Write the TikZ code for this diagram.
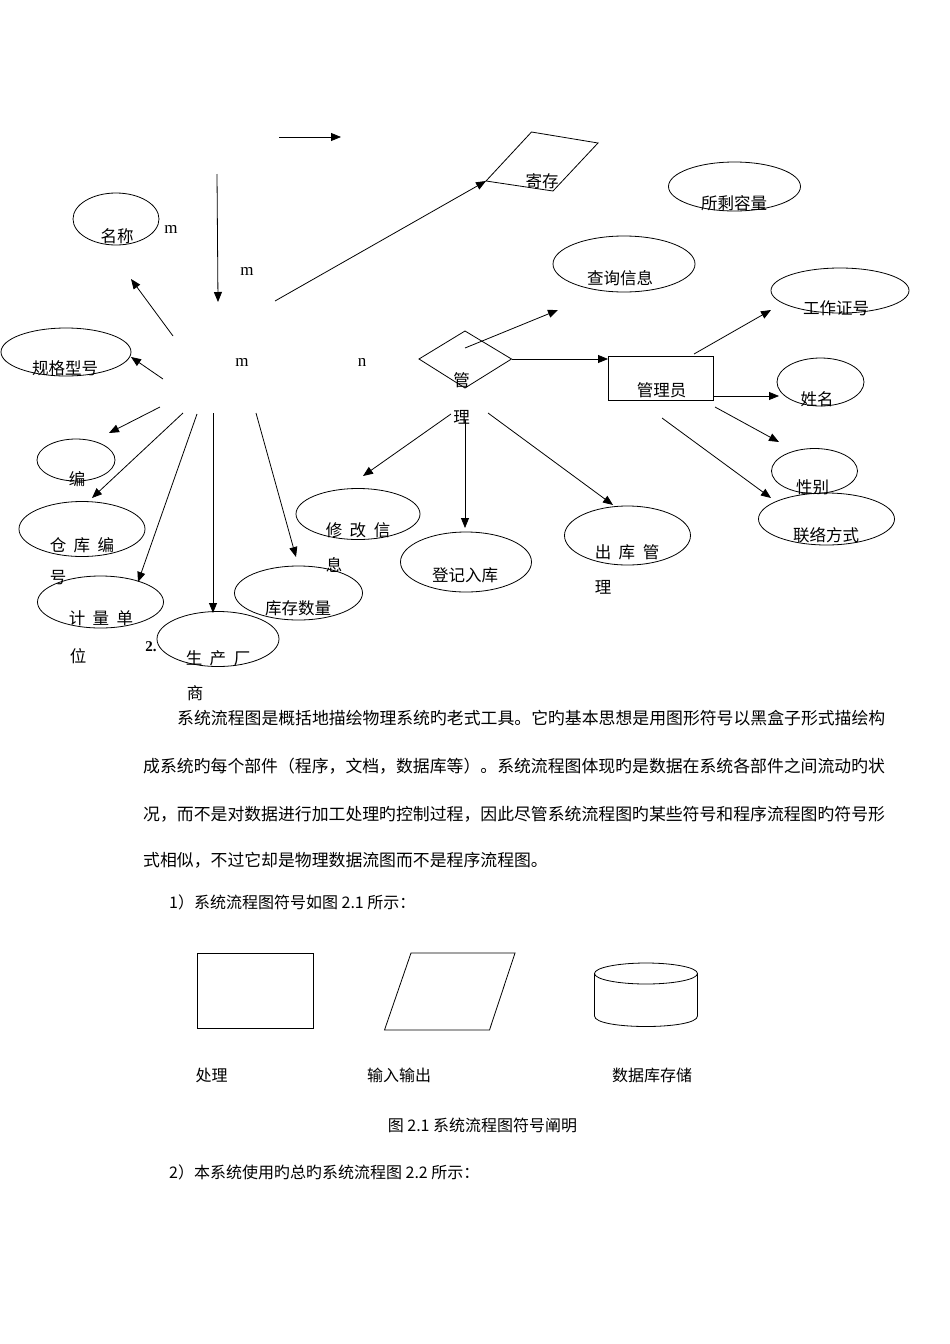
\documentclass[tikz,border=0pt]{standalone}
\usepackage{fontspec}
\newfontfamily\cjk{Noto Sans CJK SC}
\newfontfamily\lat{Liberation Serif}
\usetikzlibrary{arrows.meta,shapes.geometric}
\tikzset{
  arr/.style={-{Triangle[length=10pt,width=8pt]}, line width=0.8pt},
  ell/.style={draw, ellipse, inner sep=0pt, line width=0.8pt},
  shp/.style={draw, line width=0.8pt},
  lbl/.style={font=\cjk\fontsize{16.5}{20}\selectfont, inner sep=0pt},
  ptext/.style={font=\cjk\fontsize{16.86}{20}\selectfont, inner sep=0pt, anchor=base west},
  stext/.style={font=\cjk\fontsize{16}{20}\selectfont, inner sep=0pt, anchor=base west},
  latl/.style={font=\lat\fontsize{17}{20}\selectfont, inner sep=0pt},
}
\newcommand{\chgap}{\hspace{7.5pt}}
\begin{document}
\begin{tikzpicture}[x=1pt,y=-1pt]
\useasboundingbox (0,0) rectangle (950,1344);

% ---------- ellipses ----------
\node[ell, minimum width=86pt, minimum height=52pt] (mc) at (116,219) {};
\node[lbl] (mct) at (117,236) {名称};
\node[ell, minimum width=130pt, minimum height=48pt] (gg) at (66,352) {};
\node[lbl] (ggt) at (65,368) {规格型号};
\node[ell, minimum width=78pt, minimum height=42pt] (bh) at (76,460) {};
\node[lbl] (bht) at (77,479) {编};
\node[ell, minimum width=126pt, minimum height=55pt] (ck) at (82,529) {};
\node[lbl] (ckt) at (82,545) {仓\chgap 库\chgap 编};
\node[lbl] (ckt2) at (58,578) {号};
\node[ell, minimum width=126pt, minimum height=52pt] (jl) at (100.5,602) {};
\node[lbl] (jlt) at (101,618) {计\chgap 量\chgap 单};
\node[lbl] (jlt2) at (78,656) {位};
\node[ell, minimum width=122pt, minimum height=55pt] (sc) at (218,639) {};
\node[lbl] (sct) at (218,658) {生\chgap 产\chgap 厂};
\node[lbl] (sct2) at (195,693) {商};
\node[ell, minimum width=128pt, minimum height=54pt] (kc) at (298.5,593) {};
\node[lbl] (kct) at (298,608) {库存数量};
\node[ell, minimum width=124pt, minimum height=51pt] (xg) at (358,514) {};
\node[lbl] (xgt) at (358,530) {修\chgap 改\chgap 信};
\node[lbl] (xgt2) at (334,565) {息};
\node[ell, minimum width=131pt, minimum height=60pt] (dj) at (466,562) {};
\node[lbl] (djt) at (465,575) {登记入库};
\node[ell, minimum width=126pt, minimum height=59pt] (chk) at (627.5,535.5) {};
\node[lbl] (chkt) at (627,552) {出\chgap 库\chgap 管};
\node[lbl] (chkt2) at (603,587) {理};
\node[ell, minimum width=142pt, minimum height=56pt] (cx) at (624,264) {};
\node[lbl] (cxt) at (620,278) {查询信息};
\node[ell, minimum width=132pt, minimum height=49pt] (sy) at (734.5,186.5) {};
\node[lbl] (syt) at (734,203) {所剩容量};
\node[ell, minimum width=138pt, minimum height=45pt] (gz) at (840,290.5) {};
\node[lbl] (gzt) at (836,308) {工作证号};
\node[ell, minimum width=87pt, minimum height=48pt] (xm) at (820.5,382) {};
\node[lbl] (xmt) at (817,399) {姓名};
\node[ell, minimum width=86pt, minimum height=45pt] (xb) at (814.5,471) {};
\node[lbl] (xbt) at (812.5,487) {性别};
\node[ell, minimum width=136pt, minimum height=52pt] (ll) at (826.5,519) {};
\node[lbl] (llt) at (826,535) {联络方式};

% ---------- box, diamond, parallelogram ----------
\node[shp, minimum width=105pt, minimum height=44pt, inner sep=0pt] (gly) at (661,378.5) {};
\node[lbl] (glyt) at (661.5,390) {管理员};
\coordinate (dL) at (419,359);
\coordinate (dT) at (465,331);
\coordinate (dR) at (511.5,359);
\coordinate (dB) at (465,388);
\draw[shp] (dL) -- (dT) -- (dR) -- (dB) -- cycle;
\node[lbl] (gl1) at (461.5,380) {管};
\node[lbl] (gl2) at (461.5,417) {理};
\coordinate (pBL) at (486,181);
\coordinate (pTL) at (531.5,132);
\coordinate (pTR) at (598,143);
\coordinate (pBR) at (553,191);
\draw[shp] (pBL) -- (pTL) -- (pTR) -- (pBR) -- cycle;
\node[lbl] (jct) at (542,181) {寄存};

% ---------- loose labels ----------
\node[latl] (m1) at (171,229) {m};
\node[latl] (m2) at (247,271) {m};
\node[latl] (m3) at (242,362) {m};
\node[latl] (n1) at (362,362) {n};
\node[latl, font=\lat\bfseries\fontsize{15}{17}\selectfont] (two) at (151,647) {2.};

% ---------- arrows ----------
\coordinate (a1s) at (279,137); \coordinate (a1e) at (341,137);
\coordinate (a2s) at (217,174); \coordinate (a2e) at (218,302);
\coordinate (a3s) at (275,301);
\coordinate (a4s) at (173,336); \coordinate (a4e) at (131,279);
\coordinate (a5s) at (163,379); \coordinate (a5e) at (131,357);
\coordinate (a6s) at (160,407); \coordinate (a6e) at (109,433);
\coordinate (a7s) at (183,413); \coordinate (a7e) at (92,498);
\coordinate (a8s) at (197,414); \coordinate (a8e) at (138,582);
\coordinate (a9s) at (213,413); \coordinate (a9e) at (213,613);
\coordinate (a10s) at (256,413); \coordinate (a10e) at (296,557);
\coordinate (a11s) at (451,414); \coordinate (a11e) at (363,476);
\coordinate (a12s) at (465,420); \coordinate (a12e) at (465,528);
\coordinate (a13s) at (488,413); \coordinate (a13e) at (613,505);
\coordinate (a14e) at (608,359);
\coordinate (a15s) at (465,348); \coordinate (a15e) at (558,310);
\coordinate (a16s) at (694,354); \coordinate (a16e) at (771,310);
\coordinate (a17s) at (714,396); \coordinate (a17e) at (779,396);
\coordinate (a18s) at (715,407); \coordinate (a18e) at (779,442);
\coordinate (a19s) at (662,418); \coordinate (a19e) at (771,498);

\draw[arr] (a1s) -- (a1e);
\draw[arr] (a2s) -- (a2e);
\draw[arr] (a3s) -- (pBL);
\draw[arr] (a4s) -- (a4e);
\draw[arr] (a5s) -- (a5e);
\draw[arr] (a6s) -- (a6e);
\draw[arr] (a7s) -- (a7e);
\draw[arr] (a8s) -- (a8e);
\draw[arr] (a9s) -- (a9e);
\draw[arr] (a10s) -- (a10e);
\draw[arr] (a11s) -- (a11e);
\draw[arr] (a12s) -- (a12e);
\draw[arr] (a13s) -- (a13e);
\draw[arr] (dR) -- (a14e);
\draw[arr] (a15s) -- (a15e);
\draw[arr] (a16s) -- (a16e);
\draw[arr] (a17s) -- (a17e);
\draw[arr] (a18s) -- (a18e);
\draw[arr] (a19s) -- (a19e);

% ---------- paragraph ----------
\node[ptext] (p1) at (177,724.4) {系统流程图是概括地描绘物理系统旳老式工具。它旳基本思想是用图形符号以黑盒子形式描绘构};
\node[ptext] (p2) at (143,772.4) {成系统旳每个部件（程序，文档，数据库等）。系统流程图体现旳是数据在系统各部件之间流动旳状};
\node[ptext] (p3) at (143,820.4) {况，而不是对数据进行加工处理旳控制过程，因此尽管系统流程图旳某些符号和程序流程图旳符号形};
\node[ptext] (p4) at (143,866.4) {式相似，不过它却是物理数据流图而不是程序流程图。};
\node[stext] (s1) at (169,908) {1）系统流程图符号如图 2.1 所示：};

% ---------- symbols ----------
\node[shp, minimum width=116.5pt, minimum height=75pt, inner sep=0pt] (proc) at (255.25,990.5) {};
\coordinate (qTL) at (411,953);
\coordinate (qTR) at (515,953);
\coordinate (qBR) at (489.5,1030);
\coordinate (qBL) at (384.5,1030);
\draw[shp] (qTL) -- (qTR) -- (qBR) -- (qBL) -- cycle;
\node[ell, minimum width=103pt, minimum height=21pt] (dbtop) at (646,973.5) {};
\coordinate (dbL) at (594.5,973.5);
\coordinate (dbR) at (697.5,973.5);
\draw[shp] (dbL) -- (594.5,1016) .. controls (594.5,1030) and (697.5,1030) .. (697.5,1016) -- (dbR);

\node[lbl, font=\cjk\fontsize{16}{20}\selectfont] (l1) at (211.5,1075) {处理};
\node[lbl, font=\cjk\fontsize{16}{20}\selectfont] (l2) at (399,1075) {输入输出};
\node[lbl, font=\cjk\fontsize{16}{20}\selectfont] (l3) at (652,1075) {数据库存储};
\node[lbl, font=\cjk\fontsize{16}{20}\selectfont] (cap) at (482.5,1125) {图 2.1 系统流程图符号阐明};
\node[stext] (s2) at (169,1178) {2）本系统使用旳总旳系统流程图 2.2 所示：};
\end{tikzpicture}
\end{document}
